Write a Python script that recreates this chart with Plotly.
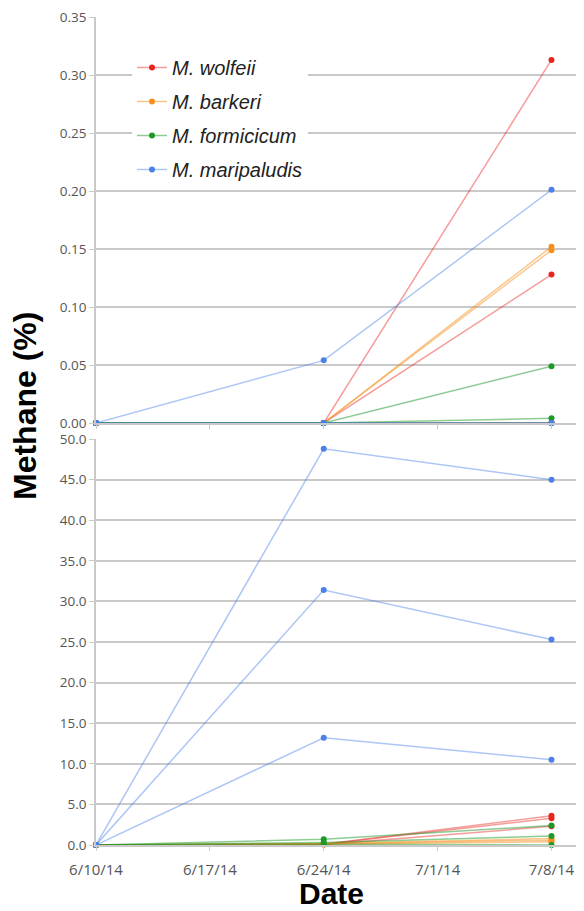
import plotly.graph_objects as go

dates = ["2014-06-10", "2014-06-24", "2014-07-08"]

species = ["M. wolfeii", "M. barkeri", "M. formicicum", "M. maripaludis"]
marker_colors = ["#e8261e", "#f5901c", "#1c9a28", "#4a80e8"]
line_colors = ["rgba(232,38,30,0.45)", "rgba(245,144,28,0.5)",
               "rgba(28,154,40,0.5)", "rgba(74,128,232,0.45)"]

# Top panel (low-level methane, %)
top_wolfeii = [[0, 0, 0.313], [0, 0, 0.128], [0, 0, 0.0]]
top_barkeri = [[0, 0, 0.152], [0, 0, 0.149], [0, 0, 0.0]]
top_formicicum = [[0, 0, 0.049], [0, 0, 0.004], [0, 0, 0.0]]
top_maripaludis = [[0, 0.054, 0.201], [0, 0, 0.0], [0, 0, 0.0]]

# Bottom panel (methane, %)
bot_wolfeii = [[0, 0.1, 3.6], [0, 0.1, 3.3], [0, 0.05, 2.3]]
bot_barkeri = [[0, 0.2, 0.8], [0, 0.15, 0.6], [0, 0.1, 0.4]]
bot_formicicum = [[0, 0.7, 2.4], [0, 0.3, 1.1], [0, 0.1, 0.0]]
bot_maripaludis = [[0, 48.8, 45.0], [0, 31.4, 25.3], [0, 13.2, 10.5]]

top_ticks = [0, 0.05, 0.10, 0.15, 0.20, 0.25, 0.30, 0.35]
top_ticktext = ["0.00", "0.05", "0.10", "0.15", "0.20", "0.25", "0.30", "0.35"]
bot_ticks = [0, 5, 10, 15, 20, 25, 30, 35, 40, 45, 50]
bot_ticktext = ["0.0", "5.0", "10.0", "15.0", "20.0", "25.0", "30.0", "35.0", "40.0", "45.0", "50.0"]
x_ticks = ["2014-06-10", "2014-06-17", "2014-06-24", "2014-07-01", "2014-07-08"]
x_ticktext = ["6/10/14", "6/17/14", "6/24/14", "7/1/14", "7/8/14"]

fig = go.Figure()

top_sets = [top_wolfeii, top_barkeri, top_formicicum, top_maripaludis]
bot_sets = [bot_wolfeii, bot_barkeri, bot_formicicum, bot_maripaludis]

for panel, sets, xa, ya in [("top", top_sets, "x", "y"), ("bot", bot_sets, "x2", "y2")]:
    for i, reps in enumerate(sets):
        for j, vals in enumerate(reps):
            fig.add_trace(go.Scatter(
                x=dates, y=vals, xaxis=xa, yaxis=ya,
                mode="lines+markers",
                name=species[i], legendgroup=species[i],
                showlegend=(panel == "top" and j == 0),
                line=dict(color=line_colors[i], width=1.5),
                marker=dict(color=marker_colors[i], size=6),
                cliponaxis=False,
            ))

grid = "#c9c9c9"
tickfont = dict(family="Open Sans", size=13.5, color="#555555")

# page has an 8px body margin: figure coordinates = page coordinates - 8
OFF = 8
W, H = 584 - OFF, 911 - OFF
L, T = 96 - OFF, 17 - OFF
PB = 845 - OFF            # plot bottom in figure px
B = H - PB
PH = PB - T
PW = W - L


def px(xpage):
    return (xpage - OFF - L) / PW


def py(ypage):
    return (PB - (ypage - OFF)) / PH


common_x = dict(type="date", range=["2014-06-10", "2014-07-10"], tickvals=x_ticks,
                showgrid=False, showline=True, linecolor=grid, linewidth=1.5,
                ticks="outside", ticklen=4, tickcolor=grid, zeroline=False)

fig.update_layout(
    width=W, height=H,
    paper_bgcolor="white", plot_bgcolor="white",
    margin=dict(l=L, r=0, t=T, b=B),
    xaxis=dict(**common_x, domain=[0, 1], anchor="y", showticklabels=False),
    xaxis2=dict(**common_x, domain=[0, 1], anchor="y2", ticktext=x_ticktext,
                ticklabelstandoff=6,
                tickfont=dict(family="Open Sans", size=15, color="#555555")),
    yaxis=dict(domain=[py(423), 1], range=[0, 0.35005], tickvals=top_ticks, ticktext=top_ticktext,
               showgrid=True, gridcolor=grid, gridwidth=1.5, showline=True, linecolor=grid,
               linewidth=1.5, ticks="outside", ticklen=5, tickcolor=grid, zeroline=False,
               tickfont=tickfont, anchor="x", ticklabeloverflow="allow", automargin=False),
    yaxis2=dict(domain=[0, py(439)], range=[0, 50.005], tickvals=bot_ticks, ticktext=bot_ticktext,
                showgrid=True, gridcolor=grid, gridwidth=1.5, showline=True, linecolor=grid,
                linewidth=1.5, ticks="outside", ticklen=5, tickcolor=grid, zeroline=False,
                tickfont=tickfont, anchor="x2", ticklabeloverflow="allow", automargin=False),
    legend=dict(x=px(132), y=py(48), xanchor="left", yanchor="top",
                bgcolor="white", traceorder="grouped", tracegroupgap=5,
                font=dict(family="Liberation Sans", size=20, color="#222222", style="italic")),
    annotations=[
        dict(text="<b>Methane (%)</b>", xref="paper", yref="paper",
             x=px(25), y=py(406), textangle=-90, showarrow=False,
             font=dict(family="Liberation Sans", size=32, color="#000000"),
             xanchor="center", yanchor="middle"),
        dict(text="<b>Date</b>", xref="paper", yref="paper",
             x=px(331), y=py(893), showarrow=False,
             font=dict(family="Liberation Sans", size=30, color="#000000"),
             xanchor="center", yanchor="middle"),
    ],
)

fig.write_html("out.html")
